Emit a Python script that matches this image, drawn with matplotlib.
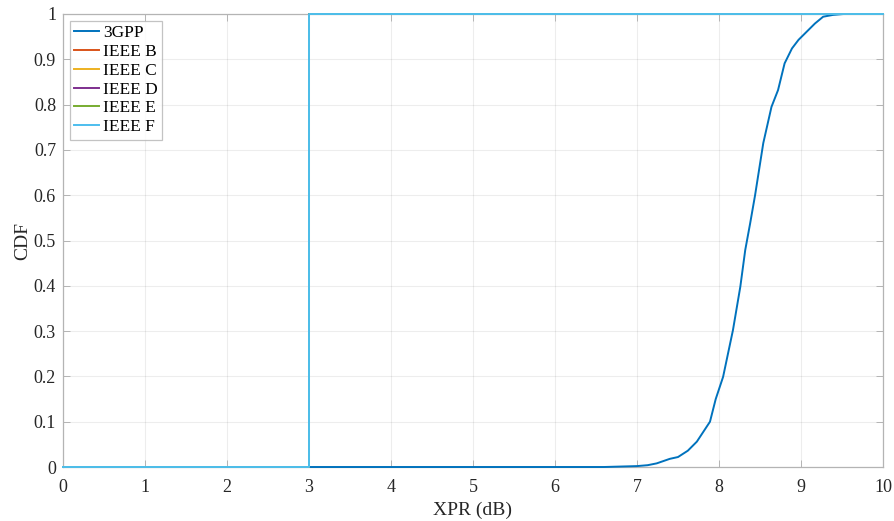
import matplotlib
matplotlib.use("Agg")
import matplotlib.pyplot as plt
import numpy as np

gpp_xpr = [0.0, 6.6, 7.0, 7.13, 7.24, 7.40, 7.50, 7.62, 7.73, 7.89, 7.96, 8.05, 8.17,
           8.26, 8.32, 8.38, 8.44, 8.54, 8.64, 8.72, 8.80, 8.89, 8.97, 9.07, 9.17,
           9.27, 9.39, 9.52, 10.0]
gpp_cdf = [0.0, 0.0, 0.002, 0.004, 0.008, 0.018, 0.022, 0.036, 0.056, 0.10, 0.15, 0.199, 0.302,
           0.398, 0.479, 0.538, 0.600, 0.715, 0.795, 0.832, 0.891, 0.924, 0.943, 0.961, 0.979,
           0.994, 0.998, 1.0, 1.0]

# IEEE models: constant XPR value (dB)
ieee_names = ["IEEE B", "IEEE C", "IEEE D", "IEEE E", "IEEE F"]
ieee_xpr = [3.0, 3.0, 3.0, 3.0, 3.0]

colors = ["#0072BD", "#D95319", "#EDB120", "#7E2F8E", "#77AC30", "#4DBEEE"]
x_ticks = list(range(0, 11))
y_ticks = [0, 0.1, 0.2, 0.3, 0.4, 0.5, 0.6, 0.7, 0.8, 0.9, 1]
y_labels = ["0", "0.1", "0.2", "0.3", "0.4", "0.5", "0.6", "0.7", "0.8", "0.9", "1"]

plt.rcParams['font.family'] = ['Liberation Serif', 'DejaVu Serif']

fig = plt.figure(figsize=(8.95, 5.21), dpi=100)
ax = fig.add_axes([63/895, 1-467/521, (883-63)/895, (467-14)/521])

ax.plot(gpp_xpr, gpp_cdf, color=colors[0], lw=1.4, label="3GPP", clip_on=False, zorder=3)
xmin, xmax = 0, 10
for name, v, c in zip(ieee_names, ieee_xpr, colors[1:]):
    ax.plot([xmin, v, v, xmax], [0, 0, 1, 1], color=c, lw=1.4, label=name,
            clip_on=False, zorder=3)

ax.set_xlim(0, 10)
ax.set_ylim(0, 1)
ax.set_xticks(x_ticks)
ax.set_yticks(y_ticks)
ax.set_yticklabels(y_labels)
ax.grid(True, color="#000000", alpha=0.07, lw=0.8)
ax.tick_params(direction="in", top=True, right=True, labelsize=13, labelcolor="#262626",
               color="#b4b4b4", length=5, width=0.7)
ax.tick_params(axis='x', pad=9)
ax.tick_params(axis='y', pad=5)
for s in ax.spines.values():
    s.set_color("#b4b4b4")
    s.set_linewidth(0.9)
ax.set_xlabel("XPR (dB)", fontsize=14, color="#262626", labelpad=4)
ax.set_ylabel("CDF", fontsize=14, color="#262626", labelpad=2)

leg = ax.legend(loc="upper left", fontsize=12.5, frameon=True, fancybox=False,
                edgecolor="#b4b4b4", handlelength=1.45, handletextpad=0.2,
                labelspacing=0.15, borderpad=0.25, borderaxespad=0.4)
leg.get_frame().set_linewidth(0.9)
leg.set_zorder(5)

fig.savefig("out.png", dpi=100)
